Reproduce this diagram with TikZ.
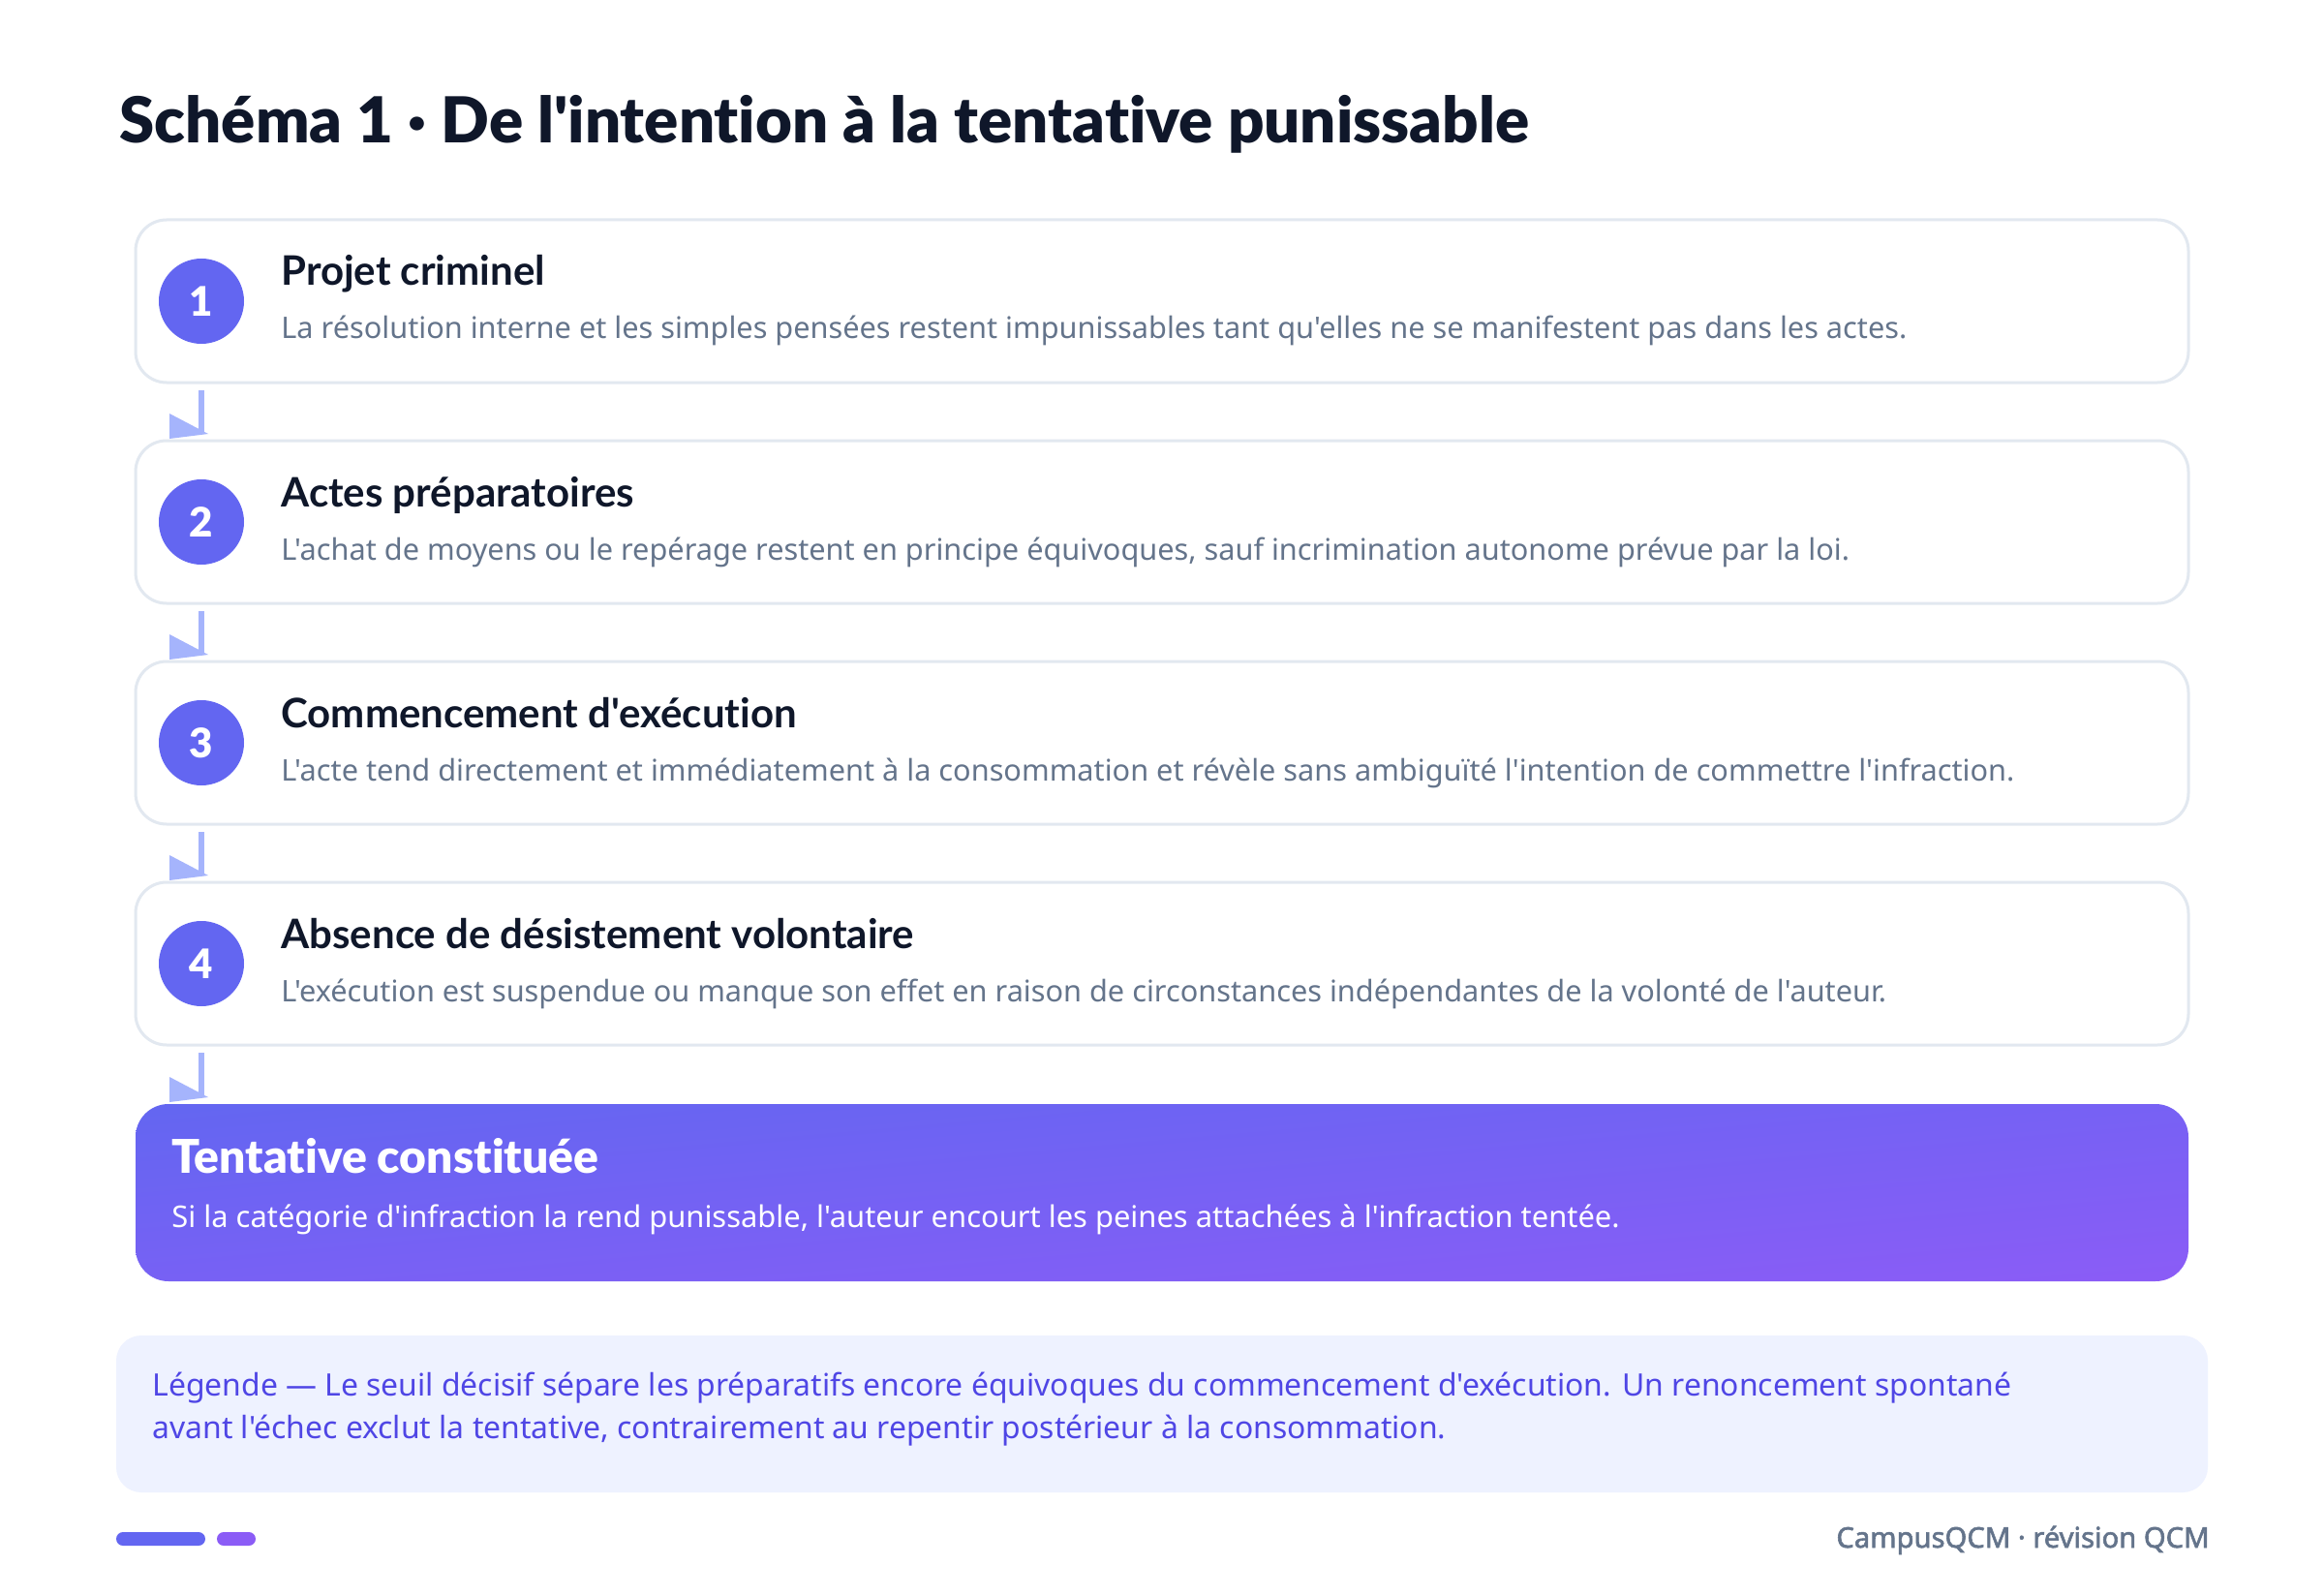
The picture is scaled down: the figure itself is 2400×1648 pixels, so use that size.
\documentclass[tikz,border=0pt]{standalone}
\usepackage{fontspec}
\newfontfamily\nfont{Noto Sans}
\newfontfamily\nsemi{Noto Sans}[FakeBold=2]
\IfFontExistsTF{Lato Bold}{\newfontfamily\nbold{Lato Bold}[Ligatures=NoCommon]}{\newfontfamily\nbold{Noto Sans}[FakeBold=3]}
\IfFontExistsTF{Lato Black}{\newfontfamily\nblack{Lato Black}[Ligatures=NoCommon]}{\let\nblack\nbold}
\usetikzlibrary{calc,shadings}
\definecolor{ink}{HTML}{0F172A}
\definecolor{slate}{HTML}{64748B}
\definecolor{borderc}{HTML}{E2E8F0}
\definecolor{indc}{HTML}{6366F1}
\definecolor{violetc}{HTML}{8B5CF6}
\definecolor{gmid}{HTML}{7761F4}
\definecolor{arrowc}{HTML}{A5B4FC}
\definecolor{legfill}{HTML}{EEF2FF}
\definecolor{legtext}{HTML}{4F46E5}
\tikzset{
  stepbox/.style={draw=borderc, line width=1.5pt, fill=white, rounded corners=16pt,
    minimum width=1060pt, minimum height=84pt, anchor=north west, inner sep=0pt, outer sep=0pt},
  finbox/.style={rounded corners=17pt, minimum width=1060pt, minimum height=91.5pt,
    anchor=north west, inner sep=0pt, outer sep=0pt,
    upper left=indc, upper right=gmid, lower left=gmid, lower right=violetc},
  legbox/.style={fill=legfill, rounded corners=13pt, minimum width=1080pt, minimum height=81pt,
    anchor=north west, inner sep=0pt, outer sep=0pt},
  num/.style={circle, fill=indc, text=white, minimum size=44pt, inner sep=0pt,
    font=\nblack\fontsize{21}{21}\selectfont},
  stitle/.style={anchor=base west, inner sep=0pt, text=ink, font=\nbold\fontsize{21}{24}\selectfont},
  sdesc/.style={anchor=base west, inner sep=0pt, text=slate, font=\nfont\fontsize{15.35}{18}\selectfont},
  ftitle/.style={anchor=base west, inner sep=0pt, text=white, font=\nblack\fontsize{24}{28}\selectfont},
  fdesc/.style={anchor=base west, inner sep=0pt, text=white, font=\nfont\fontsize{15.45}{18}\selectfont},
  legline/.style={anchor=base west, inner sep=0pt, text=legtext, font=\nfont\fontsize{15.95}{20}\selectfont},
  conn/.style={draw=arrowc, line width=3pt, shorten <=4pt},
  tipfill/.style={fill=arrowc},
  pill/.style={rounded corners=3.5pt, minimum height=7pt, anchor=north west, inner sep=0pt, outer sep=0pt},
}
\begin{document}
\begin{tikzpicture}[x=0.5pt,y=-0.5pt]
\fill[white] (0,0) rectangle (2400,1648);
\useasboundingbox (0,0) rectangle (2400,1648);

\node[anchor=base west, inner sep=0pt, text=ink, font=\nblack\fontsize{32.7}{38}\selectfont] (title) at (123,148) {Schéma 1 · De l'intention à la tentative punissable};

% step boxes
\node[stepbox] (b1) at (140,227) {};
\node[stepbox] (b2) at (140,455) {};
\node[stepbox] (b3) at (140,683) {};
\node[stepbox] (b4) at (140,911) {};
\node[finbox] (fin) at (140,1140) {};

% numbers
\node[num] (n1) at ($(b1.west)+(68,0)$) {1};
\node[num] (n2) at ($(b2.west)+(68,0)$) {2};
\node[num] (n3) at ($(b3.west)+(68,0)$) {3};
\node[num] (n4) at ($(b4.west)+(68,0)$) {4};

% texts
\node[stitle] (t1) at ($(b1.north west)+(150,68)$) {Projet criminel};
\node[sdesc] (d1) at ($(b1.north west)+(150,123)$) {La résolution interne et les simples pensées restent impunissables tant qu'elles ne se manifestent pas dans les actes.};
\node[stitle] (t2) at ($(b2.north west)+(150,68)$) {Actes préparatoires};
\node[sdesc] (d2) at ($(b2.north west)+(150,123)$) {L'achat de moyens ou le repérage restent en principe équivoques, sauf incrimination autonome prévue par la loi.};
\node[stitle] (t3) at ($(b3.north west)+(150,68)$) {Commencement d'exécution};
\node[sdesc] (d3) at ($(b3.north west)+(150,123)$) {L'acte tend directement et immédiatement à la consommation et révèle sans ambiguïté l'intention de commettre l'infraction.};
\node[stitle] (t4) at ($(b4.north west)+(150,68)$) {Absence de désistement volontaire};
\node[sdesc] (d4) at ($(b4.north west)+(150,123)$) {L'exécution est suspendue ou manque son effet en raison de circonstances indépendantes de la volonté de l'auteur.};

\node[ftitle] (ft) at ($(fin.north west)+(37,71)$) {Tentative constituée};
\node[fdesc] (fd) at ($(fin.north west)+(37,127)$) {Si la catégorie d'infraction la rend punissable, l'auteur encourt les peines attachées à l'infraction tentée.};

% connectors
\coordinate (e1) at ($(n1 |- b2.north)+(0,-8)$);
\coordinate (e2) at ($(n2 |- b3.north)+(0,-8)$);
\coordinate (e3) at ($(n3 |- b4.north)+(0,-8)$);
\coordinate (e4) at ($(n4 |- fin.north)+(0,-8)$);
\draw[conn] (n1 |- b1.south) -- (e1);
\draw[conn] (n2 |- b2.south) -- (e2);
\draw[conn] (n3 |- b3.south) -- (e3);
\draw[conn] (n4 |- b4.south) -- (e4);
\foreach \e in {e1,e2,e3,e4}{
  \fill[tipfill] (\e) ++(-33,-20) -- ++(0,26) -- ++(40,-5) -- cycle;
}

% legend
\node[legbox] (leg) at (120,1379) {};
\node[legline] (l1) at ($(leg.north west)+(37,62)$) {Légende — Le seuil décisif sépare les préparatifs encore équivoques du commencement d'exécution. Un renoncement spontané};
\node[legline] (l2) at ($(leg.north west)+(37,106)$) {avant l'échec exclut la tentative, contrairement au repentir postérieur à la consommation.};

% footer
\node[pill, fill=indc, minimum width=46pt] (p1) at (120,1582) {};
\node[pill, fill=violetc, minimum width=20pt] (p2) at (224,1582) {};
\node[anchor=base east, inner sep=0pt, text=slate, font=\nsemi\fontsize{14.6}{17}\selectfont] (foot) at (2282,1598) {CampusQCM · révision QCM};
\end{tikzpicture}
\end{document}
